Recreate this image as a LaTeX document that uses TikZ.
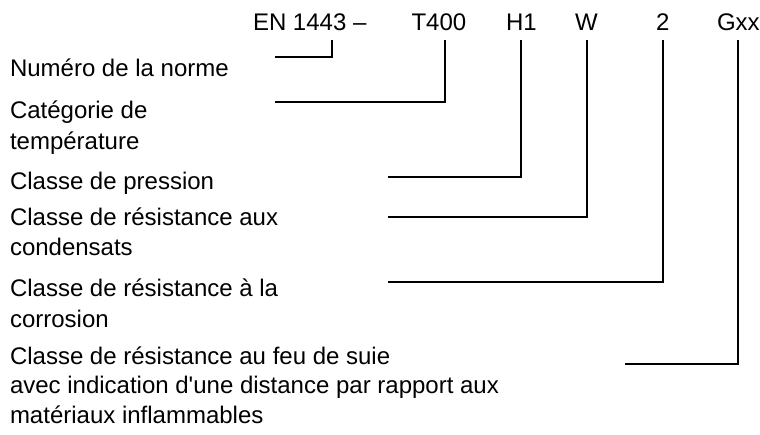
\documentclass[tikz,border=0pt]{standalone}
\usepackage{fontspec}
\setmainfont{Liberation Sans}[Ligatures=TeXOff]
\begin{document}
\begin{tikzpicture}[x=1pt,y=-1pt,
  txt/.style={anchor=base west, inner sep=0pt, outer sep=0pt, font=\fontsize{24}{29}\selectfont},
  conn/.style={draw=black, line width=2pt}]
\useasboundingbox (0,0) rectangle (760,435);
% code row
\node[txt] (en)   at (253,31) {EN 1443 –};
\node[txt] (t400) at (411.5,31) {T400};
\node[txt] (h1)   at (506,31) {H1};
\node[txt] (w)    at (575,31) {W};
\node[txt] (two)  at (656,31) {2};
\node[txt] (gxx)  at (717,31) {Gxx};
% labels
\node[txt] (norme)  at (10,77)  {Numéro de la norme};
\node[txt] (temp1)  at (10,119) {Catégorie de};
\node[txt] (temp2)  at (10,150) {température};
\node[txt] (press)  at (10,190) {Classe de pression};
\node[txt] (cond1)  at (10,226) {Classe de résistance aux};
\node[txt] (cond2)  at (10,256) {condensats};
\node[txt] (corr1)  at (10,297) {Classe de résistance à la};
\node[txt] (corr2)  at (10,328) {corrosion};
\node[txt] (feu1)   at (10,364) {Classe de résistance au feu de suie};
\node[txt] (feu2)   at (10,393) {avec indication d'une distance par rapport aux};
\node[txt] (feu3)   at (10,423) {matériaux inflammables};
% connector tops
\coordinate (ten)   at (332,40);
\coordinate (tt400) at (445,40);
\coordinate (th1)   at (521,40);
\coordinate (tw)    at (587,40);
\coordinate (ttwo)  at (663,40);
\coordinate (tgxx)  at (738,40);
% connector free ends
\coordinate (enorme) at (275,57);
\coordinate (etemp)  at (275,102);
\coordinate (epress) at (388,177);
\coordinate (econd)  at (388,217);
\coordinate (ecorr)  at (388,282);
\coordinate (efeu)   at (625,364);
\draw[conn] (ten)   |- (enorme);
\draw[conn] (tt400) |- (etemp);
\draw[conn] (th1)   |- (epress);
\draw[conn] (tw)    |- (econd);
\draw[conn] (ttwo)  |- (ecorr);
\draw[conn] (tgxx)  |- (efeu);
\end{tikzpicture}
\end{document}
